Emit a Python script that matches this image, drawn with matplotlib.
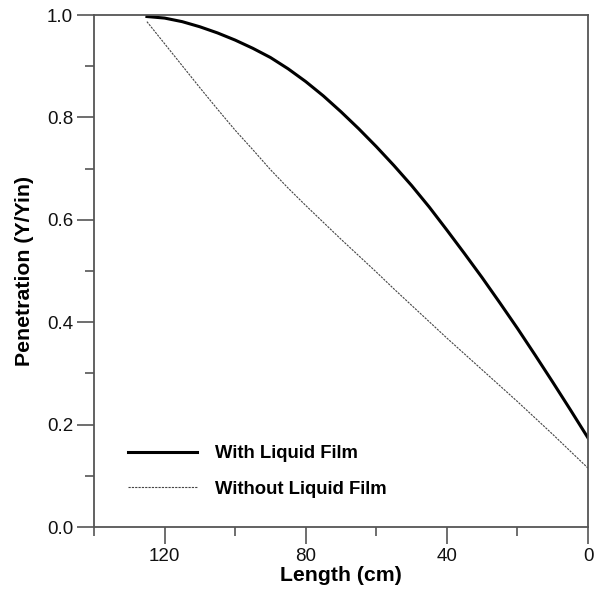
import matplotlib
matplotlib.use("Agg")
import matplotlib.pyplot as plt
from matplotlib.ticker import MultipleLocator

plt.rcParams['font.family'] = ['Liberation Sans', 'DejaVu Sans']

length_with = [125, 120, 115, 110, 105, 100, 95, 90, 85, 80, 75, 70, 65, 60,
               55, 50, 45, 40, 35, 30, 25, 20, 15, 10, 5, 0]
pen_with = [0.997, 0.994, 0.987, 0.977, 0.965, 0.951, 0.935, 0.917, 0.895, 0.870,
            0.842, 0.811, 0.778, 0.743, 0.706, 0.667, 0.625, 0.580, 0.534, 0.487,
            0.438, 0.388, 0.336, 0.283, 0.229, 0.174]

length_without = [125, 120, 115, 110, 105, 100, 95, 90, 85, 80, 75, 70, 65, 60,
                  55, 50, 45, 40, 35, 30, 25, 20, 15, 10, 5, 0]
pen_without = [0.987, 0.944, 0.901, 0.858, 0.816, 0.775, 0.737, 0.698, 0.662, 0.628,
               0.595, 0.562, 0.530, 0.498, 0.465, 0.433, 0.401, 0.369, 0.338, 0.307,
               0.276, 0.245, 0.213, 0.181, 0.148, 0.115]

labels = ["With Liquid Film", "Without Liquid Film"]

fig = plt.figure(figsize=(5.94, 6.0), dpi=100)
ax = fig.add_axes([94/594, 1-527/600, (588-94)/594, (527-15)/600])

ax.plot(length_with, pen_with, color='black', lw=2.2, label=labels[0])
ax.plot(length_without, pen_without, color='#444444', lw=0.8, linestyle=(0, (2, 1)), label=labels[1])

ax.set_xlim(140, 0)
ax.set_ylim(0, 1.0)
ax.xaxis.set_major_locator(MultipleLocator(40))
ax.xaxis.set_minor_locator(MultipleLocator(20))
ax.yaxis.set_major_locator(MultipleLocator(0.2))
ax.yaxis.set_minor_locator(MultipleLocator(0.1))
ax.set_xticks([120, 80, 40, 0])
ax.set_yticks([0.0, 0.2, 0.4, 0.6, 0.8, 1.0])
ax.set_yticklabels(["0.0", "0.2", "0.4", "0.6", "0.8", "1.0"])

spine_color = '#555555'
for s in ax.spines.values():
    s.set_color(spine_color)
    s.set_linewidth(1.3)
ax.tick_params(which='major', direction='out', length=12, width=1.2, color=spine_color,
               labelsize=13.5, labelcolor='#111111', pad=3)
ax.tick_params(which='minor', direction='out', length=6.5, width=1.2, color=spine_color)

ax.set_xlabel("Length (cm)", fontsize=15.3, fontweight='bold', labelpad=1)
ax.set_ylabel("Penetration (Y/Yin)", fontsize=15.3, fontweight='bold', labelpad=9)

leg = ax.legend(loc='lower left', bbox_to_anchor=(0.036, 0.025), frameon=False,
                prop={'weight': 'bold', 'size': 13.3}, handlelength=3.7, handletextpad=1.0,
                labelspacing=1.0)

fig.savefig("out.png", dpi=100)
